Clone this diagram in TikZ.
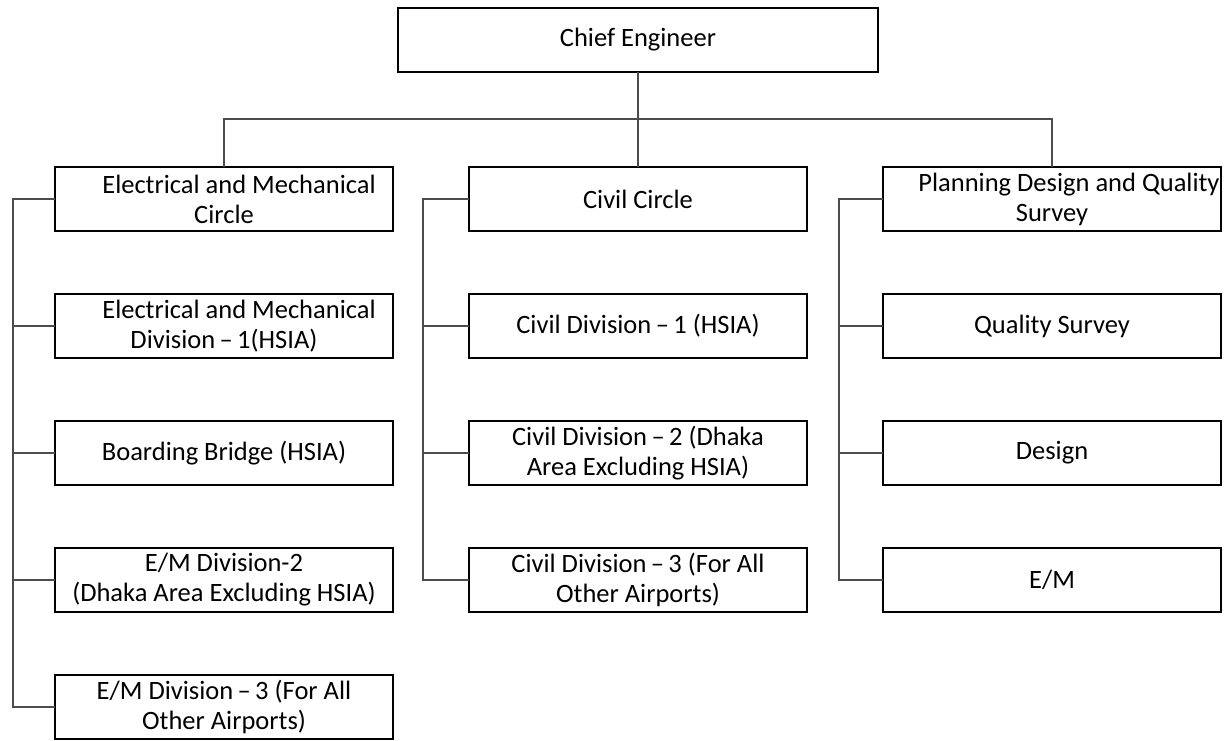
\documentclass[tikz,border=0pt]{standalone}
\usepackage{fontspec}
\setmainfont{Carlito}
\usetikzlibrary{positioning, calc}

\begin{document}
\begin{tikzpicture}[x=1pt, y=-1pt, node distance=63pt,
    box/.style={rectangle, draw=black, line width=2.2pt, fill=white,
                minimum width=338pt, minimum height=64pt, align=center,
                inner sep=1pt, outer sep=0pt, font=\fontsize{26.5}{30}\selectfont},
    link/.style={draw=black!70, line width=1.2pt}]

    \useasboundingbox (0,0) rectangle (1231,740);

    \node[box, minimum width=480pt] (chief) at (638,40) {Chief Engineer};

    % circles
    \node[box] (emc) at (224,199) {\hspace*{30pt}Electrical and Mechanical\\Circle};
    \node[box] (cc) at (638,199) {Civil Circle};
    \node[box] (pdq) at (1052,199) {\hspace*{34pt}Planning Design and Quality\\Survey};

    % electrical and mechanical
    \node[box, below=of emc] (em1) {\hspace*{30pt}Electrical and Mechanical\\Division\,–\,1(HSIA)};
    \node[box, below=of em1] (bb) {Boarding Bridge (HSIA)};
    \node[box, below=of bb] (em2) {E/M Division-2\\(Dhaka Area Excluding HSIA)};
    \node[box, below=of em2] (em3) {E/M Division\,–\,3 (For All\\Other Airports)};

    % civil
    \node[box, below=of cc] (cd1) {Civil Division\,–\,1 (HSIA)};
    \node[box, below=of cd1] (cd2) {Civil Division\,–\,2 (Dhaka\\Area Excluding HSIA)};
    \node[box, below=of cd2] (cd3) {Civil Division\,–\,3 (For All\\Other Airports)};

    % planning
    \node[box, below=of pdq] (qs) {Quality Survey};
    \node[box, below=of qs] (des) {Design};
    \node[box, below=of des] (pem) {E/M};

    \coordinate (bus) at (638,119);
    \draw[link] (chief.south) -- (cc.north);
    \draw[link] (emc.north) |- (bus) -| (pdq.north);

    \draw[link] (emc.west) -- ++(-42pt,0pt) |- (em3.west);
    \foreach \n in {em1, bb, em2}
        \draw[link] (\n.west) -- ++(-42pt,0pt);

    \draw[link] (cc.west) -- ++(-46pt,0pt) |- (cd3.west);
    \foreach \n in {cd1, cd2}
        \draw[link] (\n.west) -- ++(-46pt,0pt);

    \draw[link] (pdq.west) -- ++(-44pt,0pt) |- (pem.west);
    \foreach \n in {qs, des}
        \draw[link] (\n.west) -- ++(-44pt,0pt);
\end{tikzpicture}
\end{document}
